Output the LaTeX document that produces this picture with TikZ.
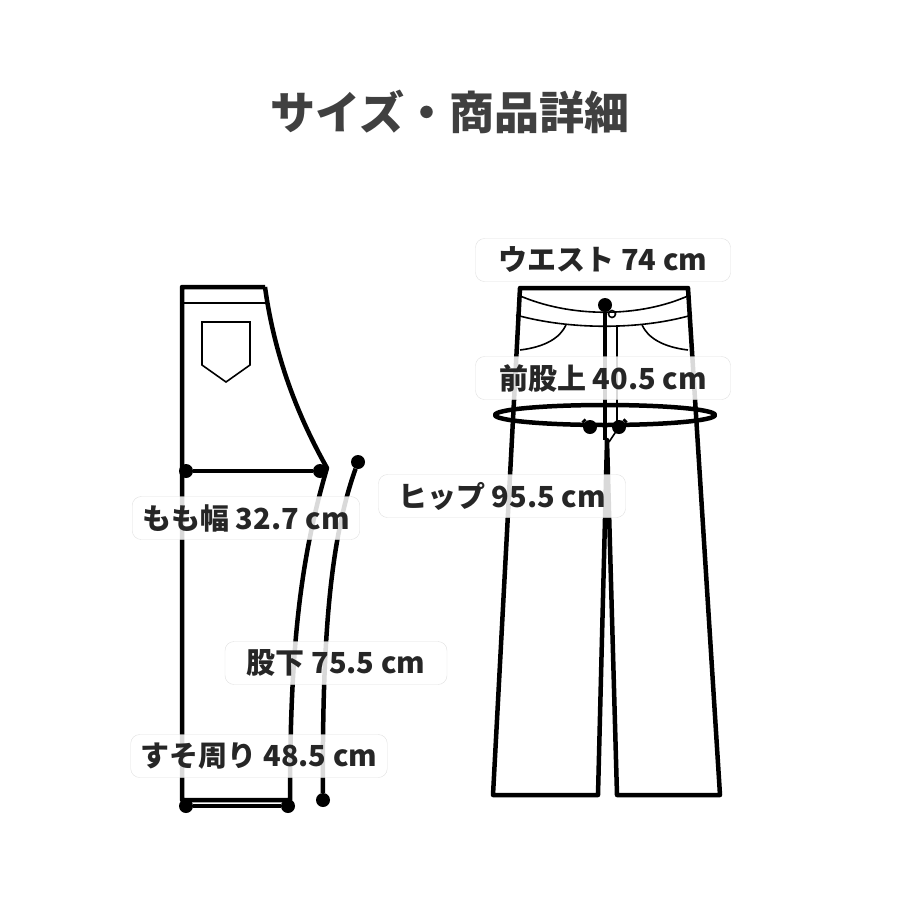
\documentclass[tikz,border=0pt]{standalone}
\usepackage{fontspec}
\setmainfont{Noto Sans CJK JP}
\usetikzlibrary{positioning}

\begin{document}
\begin{tikzpicture}[x=1pt,y=-1pt,
    outline/.style={line width=4.5pt, line join=round},
    thinline/.style={line width=1.6pt},
    dotmark/.style={circle, fill=black, inner sep=0pt, minimum size=14pt},
    labelbox/.style={draw=black!12, rounded corners=9pt, fill=white, fill opacity=0.85,
        text opacity=1, font=\bfseries\fontsize{29}{32}\selectfont, text=black!85,
        minimum height=43pt, inner xsep=10pt}
    ]
    \useasboundingbox (0,0) rectangle (900,900);
    %Title
    \node[font=\bfseries\fontsize{45}{50}\selectfont, text=black!75] (title) at (450,112) {サイズ・商品詳細};

    %Back view
    \draw[outline] (265,287) -- (182,287) -- (182,800) -- (290,800)
        .. controls (290,650) and (300,560) .. (327,468)
        .. controls (300,420) and (275,360) .. (265,287);
    \draw[thinline] (182,303) -- (267,303);
    \draw[thinline] (202,322) -- (250,322) -- (250,365) -- (226,382) -- (202,365) -- cycle;
    % coordinates for measures
    \node[dotmark] (t1) at (186,471) {};
    \node[dotmark] (t2) at (320,471) {};
    \node[dotmark] (h1) at (186,806) {};
    \node[dotmark] (h2) at (288,806) {};
    \node[dotmark] (i1) at (358,462) {};
    \node[dotmark] (i2) at (323,800) {};
    \draw[outline] (t1) -- (t2);
    \draw[outline] (h1) -- (h2);
    \draw[outline] (i1) .. controls (330,540) and (322,640) .. (i2);

    %Front view
    \draw[outline] (520,288) -- (688,288) -- (720,795) -- (617,795) -- (607,440)
        -- (598,795) -- (493,795) -- cycle;
    \draw[thinline] (518,295) .. controls (570,318) and (640,318) .. (690,295);
    \draw[thinline] (516,315) .. controls (570,330) and (640,330) .. (692,315);
    \draw[thinline] (520,350) .. controls (545,347) and (560,338) .. (566,325);
    \draw[thinline] (688,350) .. controls (663,347) and (648,338) .. (642,325);
    \draw[thinline] (617,325) -- (617,430) -- (609,442);
    \draw[thinline] (612,314) circle (3.5pt);
    \node[dotmark] (w1) at (605,305) {};
    \node[dotmark] (c1) at (590,427) {};
    \node[dotmark] (c2) at (619,427) {};
    \coordinate (w2) at (605,440);
    \draw[outline] (w1) -- (w2);
    \draw[outline] (605,415) ellipse (110pt and 10pt);
    \draw[outline] (c1) -- (583,420);
    \draw[outline] (c2) -- (626,420);

    %Labels
    \node[labelbox, minimum width=255pt] (waist) at (603,260) {ウエスト 74 cm};
    \node[labelbox, minimum width=255pt] (rise) at (603,378) {前股上 40.5 cm};
    \node[labelbox, minimum width=247pt] (hip) at (502,496) {ヒップ 95.5 cm};
    \node[labelbox, minimum width=225pt] (thigh) at (246,518) {もも幅 32.7 cm};
    \node[labelbox, minimum width=222pt] (inseam) at (336,663) {股下 75.5 cm};
    \node[labelbox, minimum width=252pt] (hem) at (259,756) {すそ周り 48.5 cm};
\end{tikzpicture}
\end{document}
